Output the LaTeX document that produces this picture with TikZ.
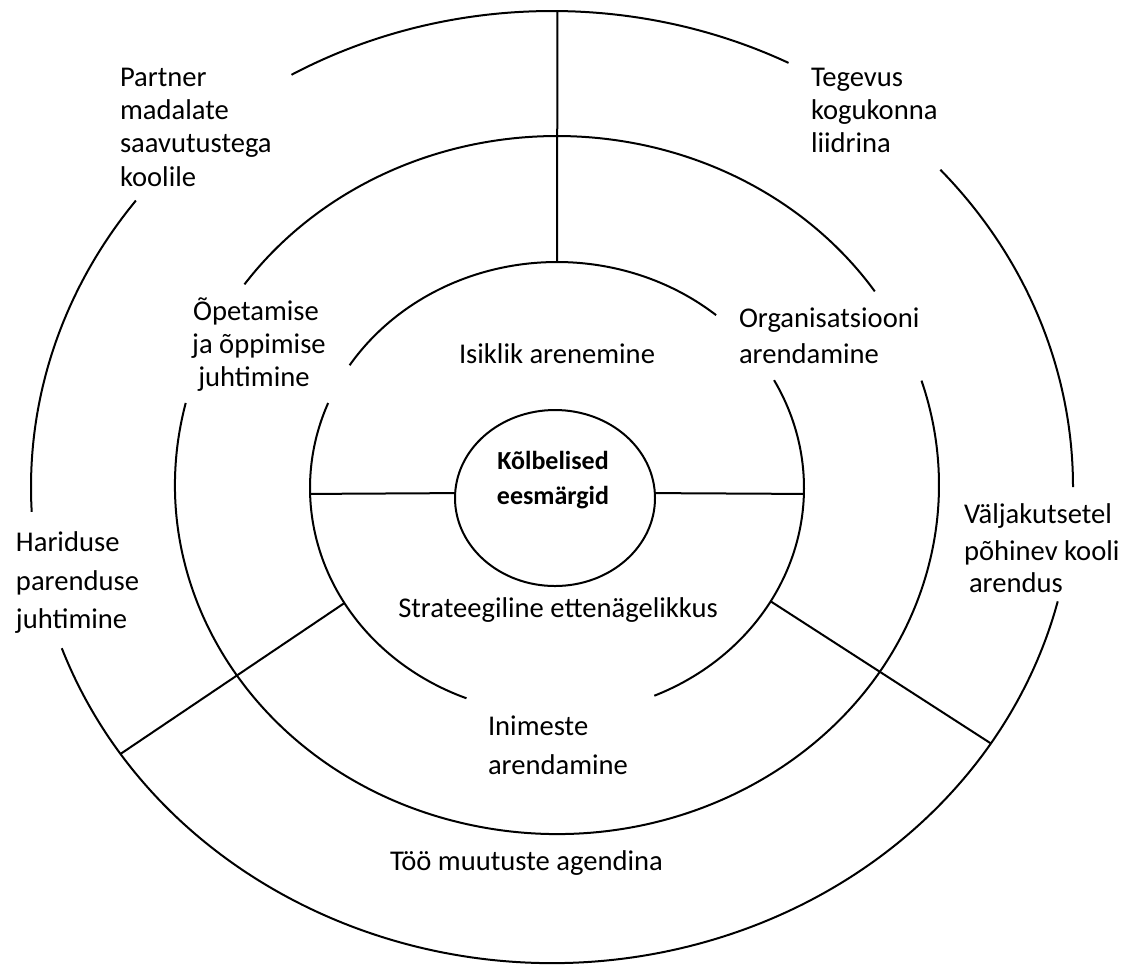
\documentclass[tikz,border=0pt]{standalone}
\usepackage{fontspec}
\setmainfont{Carlito}
\usetikzlibrary{calc}

\begin{document}
\begin{tikzpicture}[x=0.5pt,y=0.5pt,line width=1pt,
  font=\fontsize{14.3}{17}\selectfont,
  lbl/.style={inner sep=0pt,anchor=base west},
  clbl/.style={inner sep=0pt,anchor=base}]

\useasboundingbox (0,0) rectangle (1123,-966);

\coordinate (o1) at (555,-498);
\coordinate (o2) at (557,-488);
\coordinate (o3) at (557,-485);
\coordinate (o4) at (552,-487);

% inner circle
\draw (o1) ellipse [x radius=100, y radius=88];

% second ring
\path (o2) -- +(49.9:247 and 226) coordinate (b2);
\path (o2) -- +(157.9:247 and 226) coordinate (l2);
\path (o2) -- +(-66.8:247 and 226) coordinate (r2);
\draw (b2) arc[start angle=49.9, end angle=147.1, x radius=247, y radius=226];
\draw (l2) arc[start angle=157.9, end angle=248.5, x radius=247, y radius=226];
\draw (r2) arc[start angle=-66.8, end angle=28.5, x radius=247, y radius=226];

% third ring
\path (o3) -- +(33.7:382 and 349) coordinate (b3);
\path (o3) -- +(166.4:382 and 349) coordinate (l3);
\draw (b3) arc[start angle=33.7, end angle=144.9, x radius=382, y radius=349];
\draw (l3) arc[start angle=166.4, end angle=377.4, x radius=382, y radius=349];

% outer ring
\path (o4) -- +(63:521 and 476) coordinate (b4);
\path (o4) -- +(0:521 and 476) coordinate (r4);
\path (o4) -- +(199.8:521 and 476) coordinate (d4);
\path (o4) -- +(143:521 and 476) coordinate (l4);
\draw (b4) arc[start angle=63, end angle=120, x radius=521, y radius=476];
\draw (r4) arc[start angle=0, end angle=41.8, x radius=521, y radius=476];
\draw (d4) arc[start angle=199.8, end angle=346.1, x radius=521, y radius=476];
\draw (l4) arc[start angle=143, end angle=183, x radius=521, y radius=476];

% spokes
\path (o4) -- +(89.4:521 and 476) coordinate (t4);
\path (o2) -- +(90:247 and 226) coordinate (t2);
\draw (t4) -- (t2);

\path (o1) -- +(176.8:100 and 88) coordinate (w1);
\path (o2) -- +(181.5:247 and 226) coordinate (w2);
\draw (w2) -- (w1);
\path (o1) -- +(3.2:100 and 88) coordinate (e1);
\path (o2) -- +(-1.5:247 and 226) coordinate (e2);
\draw (e1) -- (e2);

\path (o2) -- +(210.6:247 and 226) coordinate (sw2);
\path (o4) -- +(214.1:521 and 476) coordinate (sw4);
\draw (sw2) -- (sw4);
\path (o2) -- +(329.9:247 and 226) coordinate (se2);
\path (o4) -- +(327.4:521 and 476) coordinate (se4);
\draw (se2) -- (se4);

% labels
\node[clbl,font=\fontsize{13}{15}\selectfont\bfseries] (core1) at (553,-469) {Kõlbelised};
\node[clbl,font=\fontsize{13}{15}\selectfont\bfseries] (core2) at (553,-504) {eesmärgid};

\node[clbl] (isiklik) at (557,-363) {Isiklik arenemine};
\node[clbl] (strat) at (558,-617) {Strateegiline ettenägelikkus};

\node[clbl] (opet1) at (256,-320) {Õpetamise};
\node[clbl] (opet2) at (259,-353) {ja õppimise};
\node[clbl] (opet3) at (254,-386) {juhtimine};

\node[lbl] (org1) at (738,-327) {Organisatsiooni};
\node[lbl] (org2) at (738,-363) {arendamine};

\node[lbl] (inim1) at (487,-735) {Inimeste};
\node[lbl] (inim2) at (487,-774) {arendamine};

\node[lbl] (partner1) at (119,-86) {Partner};
\node[lbl] (partner2) at (119,-119) {madalate};
\node[lbl] (partner3) at (119,-152) {saavutustega};
\node[lbl] (partner4) at (119,-186) {koolile};

\node[lbl] (teg1) at (810,-86) {Tegevus};
\node[lbl] (teg2) at (810,-119) {kogukonna};
\node[lbl] (teg3) at (810,-152) {liidrina};

\node[lbl] (har1) at (15,-551) {Hariduse};
\node[lbl] (har2) at (15,-590) {parenduse};
\node[lbl] (har3) at (15,-628) {juhtimine};

\node[lbl] (valj1) at (963,-523) {Väljakutsetel};
\node[lbl] (valj2) at (963,-560) {põhinev kooli};
\node[lbl] (valj3) at (968,-592) {arendus};

\node[lbl] (too) at (389,-870) {Töö muutuste agendina};

\end{tikzpicture}
\end{document}
